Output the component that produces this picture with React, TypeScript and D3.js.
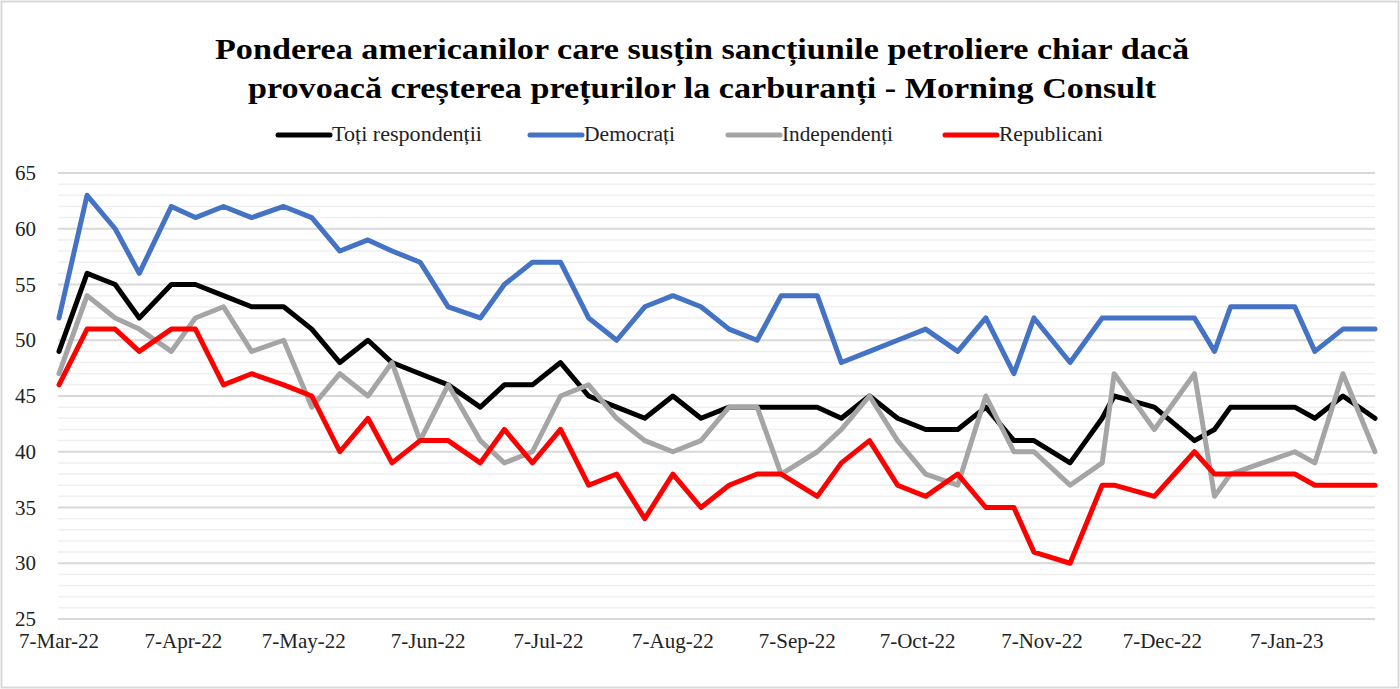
import React from "react";
import * as d3 from "d3";

const dates = [
  "2022-03-07","2022-03-14","2022-03-21","2022-03-27","2022-04-04","2022-04-10","2022-04-17","2022-04-24",
  "2022-05-02","2022-05-09","2022-05-16","2022-05-23","2022-05-29","2022-06-05","2022-06-12","2022-06-20",
  "2022-06-26","2022-07-03","2022-07-10","2022-07-17","2022-07-24","2022-07-31","2022-08-07","2022-08-14",
  "2022-08-21","2022-08-28","2022-09-03","2022-09-12","2022-09-18","2022-09-25","2022-10-02","2022-10-09",
  "2022-10-17","2022-10-24","2022-10-31","2022-11-05","2022-11-14","2022-11-22","2022-11-25","2022-12-05",
  "2022-12-15","2022-12-20","2022-12-24","2023-01-01","2023-01-09","2023-01-14","2023-01-21","2023-01-29",
];

const toti = [49,56,55,52,55,55,54,53,53,51,48,50,48,47,46,44,46,46,48,45,44,43,45,43,44,44,44,44,43,45,43,42,42,44,41,41,39,43,45,44,41,42,44,44,44,43,45,43];
const democrati = [52,63,60,56,62,61,62,61,62,61,58,59,58,57,53,52,55,57,57,52,50,53,54,53,51,50,54,54,48,49,50,51,49,52,47,52,48,52,52,52,52,49,53,53,53,49,51,51];
const independenti = [47,54,52,51,49,52,53,49,50,44,47,45,48,41,46,41,39,40,45,46,43,41,40,41,44,44,38,40,42,45,41,38,37,45,40,40,37,39,47,42,47,36,38,39,40,39,47,40];
const republicani = [46,51,51,49,51,51,46,47,46,45,40,43,39,41,41,39,42,39,42,37,38,34,38,35,37,38,38,36,39,41,37,36,38,35,35,31,30,37,37,36,40,38,38,38,38,37,37,37];

const seriesNames = ["Toți respondenții", "Democrați", "Independenți", "Republicani"];
const seriesValues = [toti, democrati, independenti, republicani];
const seriesColors = ["#000000", "#4472C4", "#A5A5A5", "#FF0000"];

const titleLines = [
  "Ponderea americanilor care susțin sancțiunile petroliere chiar dacă",
  "provoacă creșterea prețurilor la carburanți - Morning Consult",
];

const yTicks = [25, 30, 35, 40, 45, 50, 55, 60, 65];
const xStart = "2022-03-07";
const xEnd = "2023-01-29";

const W = 1400;
const H = 689;

export default function App() {
  const parse = d3.utcParse("%Y-%m-%d");
  const fmt = d3.utcFormat("%-d-%b-%y");
  const d0 = parse(xStart) as Date;
  const d1 = parse(xEnd) as Date;
  const x = d3.scaleUtc().domain([d0, d1]).range([59, 1375]);
  const y = d3.scaleLinear().domain([25, 65]).range([619, 173]);
  const parsed = dates.map((d) => parse(d) as Date);

  const monthTicks = d3.utcMonth
    .range(d3.utcMonth.floor(d0), d1)
    .map((m) => d3.utcDay.offset(m, 6))
    .filter((d) => d >= d0 && d <= d1);

  const minor = d3.range(25, 66, 1).filter((v) => v % 5 !== 0);

  const line = d3
    .line<number>()
    .x((_, i) => x(parsed[i]))
    .y((v) => y(v));

  const legendX = [278, 530, 728, 945];
  const legendTextLen = [150, 91, 111, 104];
  const serif = "'Liberation Serif', 'Times New Roman', serif";

  return (
    <svg
      width={W}
      height={H}
      style={{ position: "absolute", left: 0, top: 0, background: "#fff" }}
      fontFamily={serif}
    >
      <rect x={1.5} y={1.5} width={W - 3} height={H - 3} fill="#fff" stroke="#d9d9d9" strokeWidth={2} />
      {titleLines.map((t, i) => (
        <text
          key={i}
          x={702}
          y={i === 0 ? 59 : 98}
          textAnchor="middle"
          fontSize={29}
          fontWeight="bold"
          textLength={i === 0 ? 974 : 908}
          lengthAdjust="spacingAndGlyphs"
          fill="#000"
        >
          {t}
        </text>
      ))}
      {seriesNames.map((n, i) => (
        <g key={n}>
          <line
            x1={legendX[i]}
            x2={legendX[i] + 52}
            y1={135}
            y2={135}
            stroke={seriesColors[i]}
            strokeWidth={5}
            strokeLinecap="round"
          />
          <text
            x={legendX[i] + 54}
            y={141}
            fontSize={20}
            fill="#222"
            textLength={legendTextLen[i]}
            lengthAdjust="spacingAndGlyphs"
          >
            {n}
          </text>
        </g>
      ))}
      {minor.map((v) => (
        <line key={"m" + v} x1={58} x2={1375} y1={y(v)} y2={y(v)} stroke="#efefef" strokeWidth={1.5} />
      ))}
      {yTicks.map((v) => (
        <line key={"g" + v} x1={58} x2={1375} y1={y(v)} y2={y(v)} stroke="#d9d9d9" strokeWidth={2} />
      ))}
      {yTicks.map((v) => (
        <text key={"t" + v} x={15} y={y(v) + 7} fontSize={21} fill="#222">
          {v}
        </text>
      ))}
      {monthTicks.map((d, i) => (
        <text
          key={"x" + i}
          x={Math.max(x(d), 55)}
          y={648}
          fontSize={21}
          fill="#222"
          textAnchor="middle"
        >
          {fmt(d)}
        </text>
      ))}
      {seriesValues.map((vals, i) => (
        <path
          key={"s" + i}
          d={line(vals) || ""}
          fill="none"
          stroke={seriesColors[i]}
          strokeWidth={5}
          strokeLinejoin="round"
          strokeLinecap="round"
        />
      ))}
    </svg>
  );
}
